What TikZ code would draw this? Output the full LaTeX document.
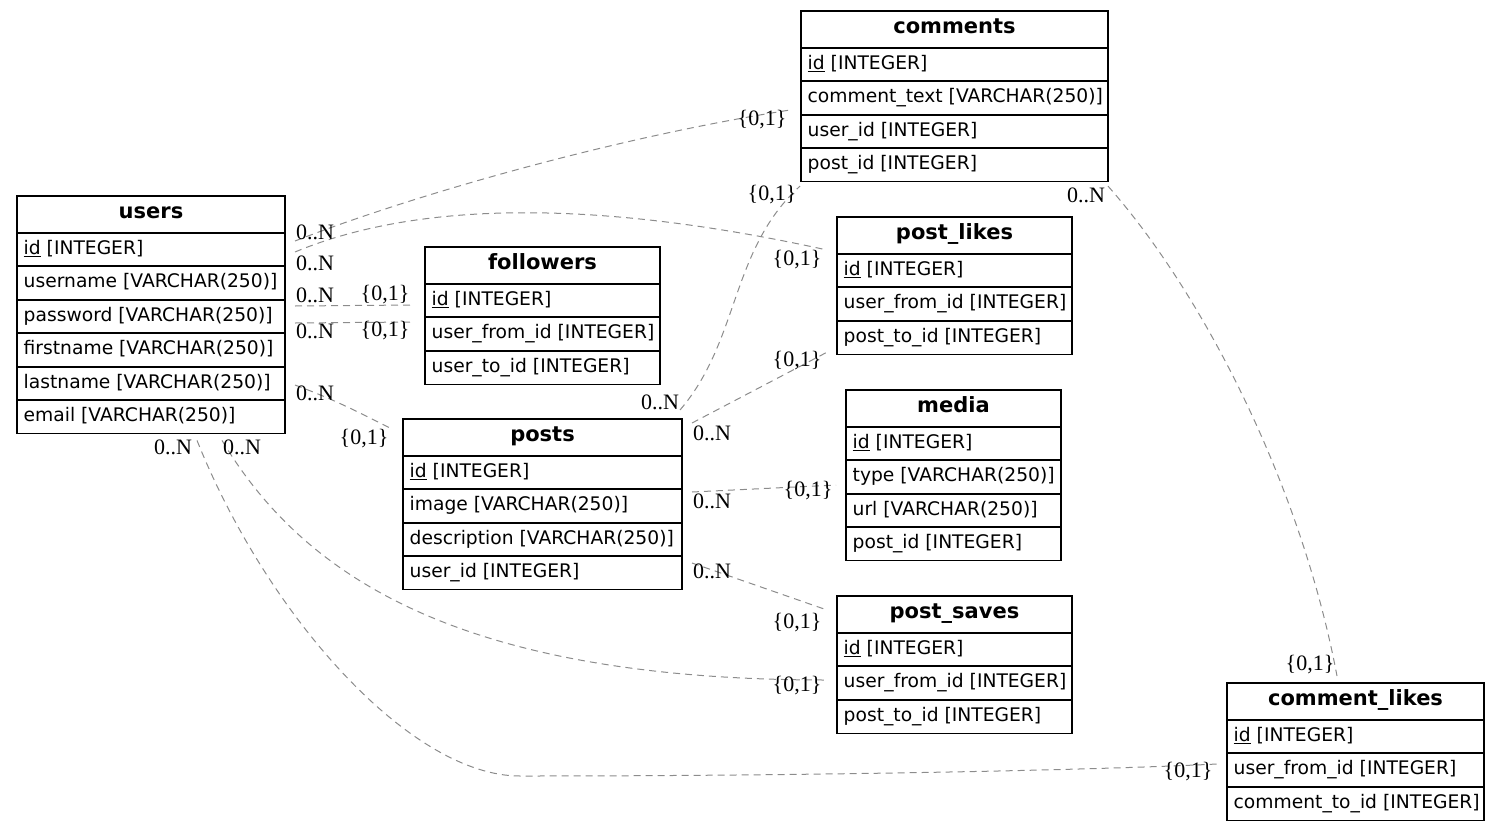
\documentclass[tikz,border=0pt]{standalone}
\usepackage{fontspec}
\usetikzlibrary{calc}
\newfontfamily\tablefont{DejaVu Sans}
\newfontfamily\cardfont{Liberation Serif}
\newcommand{\pk}[1]{\underline{#1}}

\tikzset{
  tableframe/.style={draw=black, line width=1.2pt, inner sep=0pt, outer sep=0pt, fill=white},
  rowsep/.style={draw=black, line width=1.8pt},
  tabletitle/.style={inner sep=0pt, font=\tablefont\bfseries\fontsize{21}{24}\selectfont},
  rowtext/.style={inner sep=0pt, font=\tablefont\fontsize{18.7}{22}\selectfont},
  relation/.style={draw=black!45, line width=1pt, dash pattern=on 7pt off 5pt},
  card/.style={inner sep=0pt, font=\cardfont\fontsize{22}{25}\selectfont},
}

% \ertable{name}{left}{top}{width}{number of rows}{title}{rows}
\newcommand{\ertable}[7]{%
  \node[tableframe, anchor=north west, minimum width=#4, minimum height={37+#5*33.4}] (#1) at (#2,#3) {};
  \node[tabletitle, anchor=base] (#1-h) at ({#2+#4/2},{#3+22}) {#6};
  \foreach \k in {1,...,#5} {
    \draw[rowsep] ({#2},{#3+37+round((\k-1)*33.4)}) -- ++(#4,0);
  }
  \foreach \rowtxt [count=\k] in {#7} {
    \node[rowtext, anchor=base west] (#1-\k) at ({#2+6.5},{#3+37+(\k-1)*33.4+21.5}) {\rowtxt};
  }
}

\begin{document}
\begin{tikzpicture}[x=1pt, y=-1pt]
\useasboundingbox (0,0) rectangle (1500,830);

% ---------- tables ----------
\ertable{users}{17}{196}{268}{6}{users}{\pk{id} [INTEGER], username [VARCHAR(250)], password [VARCHAR(250)], firstname [VARCHAR(250)], lastname [VARCHAR(250)], email [VARCHAR(250)]}
\ertable{followers}{425}{247}{235}{3}{followers}{\pk{id} [INTEGER], user\_from\_id [INTEGER], user\_to\_id [INTEGER]}
\ertable{comments}{801}{11}{307}{4}{comments}{\pk{id} [INTEGER], comment\_text [VARCHAR(250)], user\_id [INTEGER], post\_id [INTEGER]}
\ertable{postlikes}{837}{217}{235}{3}{post\_likes}{\pk{id} [INTEGER], user\_from\_id [INTEGER], post\_to\_id [INTEGER]}
\ertable{media}{846}{390}{215}{4}{media}{\pk{id} [INTEGER], type [VARCHAR(250)], url [VARCHAR(250)], post\_id [INTEGER]}
\ertable{posts}{403}{419}{279}{4}{posts}{\pk{id} [INTEGER], image [VARCHAR(250)], description [VARCHAR(250)], user\_id [INTEGER]}
\ertable{postsaves}{837}{596}{235}{3}{post\_saves}{\pk{id} [INTEGER], user\_from\_id [INTEGER], post\_to\_id [INTEGER]}
\ertable{commentlikes}{1227}{683}{257}{3}{comment\_likes}{\pk{id} [INTEGER], user\_from\_id [INTEGER], comment\_to\_id [INTEGER]}

% ---------- connector end points ----------
\coordinate (e1s) at ($(users.north east)+(10,45)$);
\coordinate (e1e) at ($(comments.north west)+(-11,99)$);
\coordinate (e2s) at ($(users.north east)+(10,56)$);
\coordinate (e2e) at ($(postlikes.north west)+(-10,33)$);
\coordinate (e3s) at ($(users.north east)+(10,110)$);
\coordinate (e3e) at ($(followers.north west)+(-12,58)$);
\coordinate (e4s) at ($(users.north east)+(10,127)$);
\coordinate (e4e) at ($(followers.north west)+(-12,75)$);
\coordinate (e5s) at ($(users.north east)+(10,189)$);
\coordinate (e5e) at ($(posts.north west)+(-11,10)$);
\coordinate (e6s) at ($(users.south east)+(-63,7)$);
\coordinate (e6e) at ($(postsaves.north west)+(-10,84)$);
\coordinate (e7s) at ($(users.south east)+(-88,7)$);
\coordinate (e7m) at (520,776);
\coordinate (e7e) at ($(commentlikes.north west)+(-10,81)$);
\coordinate (e8s) at ($(posts.north east)+(-2,-9)$);
\coordinate (e8e) at ($(comments.south west)+(-1,4.5)$);
\coordinate (e9s) at ($(posts.north east)+(10,4)$);
\coordinate (e9e) at ($(postlikes.south west)+(-10,-2)$);
\coordinate (e10s) at ($(posts.north east)+(10,73)$);
\coordinate (e10e) at ($(media.north west)+(-10,95)$);
\coordinate (e11s) at ($(posts.north east)+(10,144)$);
\coordinate (e11e) at ($(postsaves.north west)+(-10,14)$);
\coordinate (e12s) at ($(comments.south east)+(0,4.5)$);
\coordinate (e12e) at ($(commentlikes.north west)+(110,-7)$);

% ---------- relations ----------
\draw[relation] (e1s) .. controls +(105,-41) and +(-190,30) .. (e1e);
\draw[relation] (e2s) .. controls +(125,-52) and +(-227,-50) .. (e2e);
\draw[relation] (e3s) -- (e3e);
\draw[relation] (e4s) -- (e4e);
\draw[relation] (e5s) .. controls +(40,15) and +(-40,-20) .. (e5e);
\draw[relation] (e6s) .. controls +(78,130) and +(-377,0) .. (e6e);
\draw[relation] (e7s) .. controls +(70,175) and +(-110,0) .. (e7m)
                      .. controls +(300,0) and +(-120,6) .. (e7e);
\draw[relation] (e8s) .. controls +(60,-70) and +(-70,64) .. (e8e);
\draw[relation] (e9s) -- (e9e);
\draw[relation] (e10s) -- (e10e);
\draw[relation] (e11s) -- (e11e);
\draw[relation] (e12s) .. controls +(92,104) and +(-37,-196) .. (e12e);

% ---------- cardinalities ----------
\node[card] (c1a) at (315,232) {0..N};
\node[card] (c1b) at (762,120) {\{0,1\}};
\node[card] (c2a) at (315,263) {0..N};
\node[card] (c2b) at (797,260) {\{0,1\}};
\node[card] (c3a) at (315,295) {0..N};
\node[card] (c3b) at (385,295) {\{0,1\}};
\node[card] (c4a) at (315,331) {0..N};
\node[card] (c4b) at (385,331) {\{0,1\}};
\node[card] (c5a) at (315,393) {0..N};
\node[card] (c5b) at (364,439) {\{0,1\}};
\node[card] (c6a) at (242,447) {0..N};
\node[card] (c6b) at (797,686) {\{0,1\}};
\node[card] (c7a) at (173,447) {0..N};
\node[card] (c7b) at (1188,772) {\{0,1\}};
\node[card] (c8a) at (660,402) {0..N};
\node[card] (c8b) at (772,195) {\{0,1\}};
\node[card] (c9a) at (712,433) {0..N};
\node[card] (c9b) at (797,361) {\{0,1\}};
\node[card] (c10a) at (712,501) {0..N};
\node[card] (c10b) at (808,491) {\{0,1\}};
\node[card] (c11a) at (712,571) {0..N};
\node[card] (c11b) at (797,623) {\{0,1\}};
\node[card] (c12a) at (1086,195) {0..N};
\node[card] (c12b) at (1310,665) {\{0,1\}};
\end{tikzpicture}
\end{document}
